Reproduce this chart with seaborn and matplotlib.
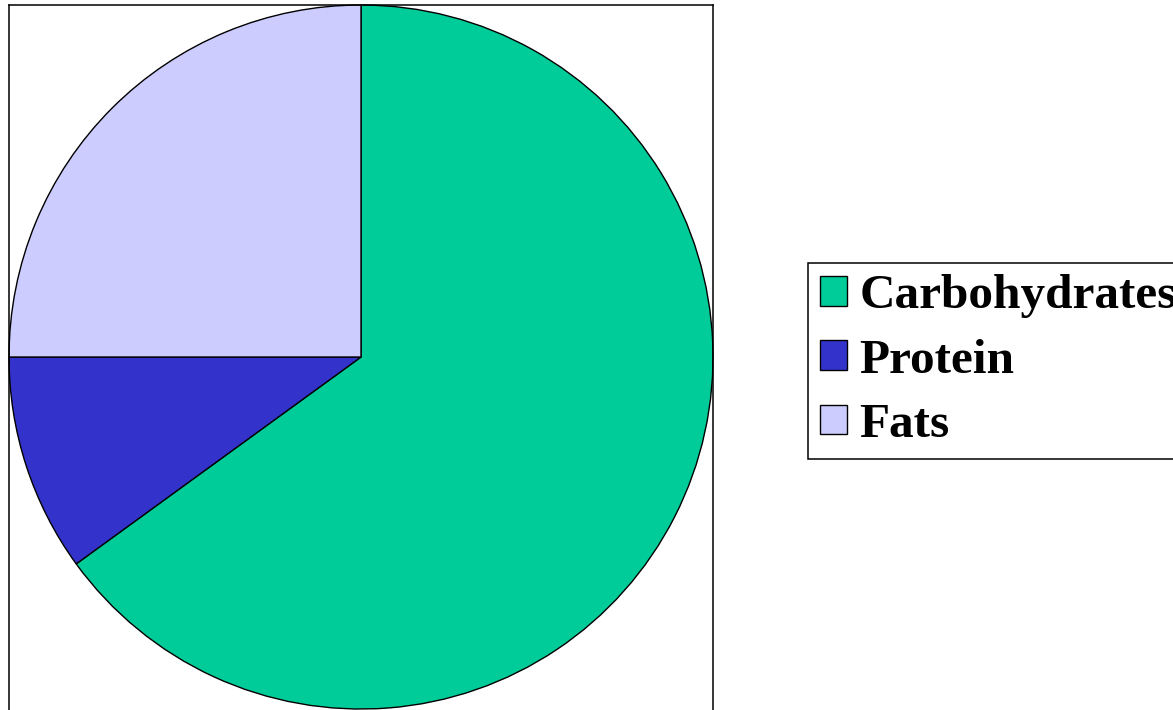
import seaborn as sns
import matplotlib.pyplot as plt

# Data
nutrients = ['Carbohydrates', 'Protein', 'Fats']
shares = [65, 10, 25]
colors = ['#00CC99', '#3333CC', '#CCCCFF']

sns.set_style('white')
plt.rcParams['font.family'] = ['Liberation Serif', 'DejaVu Serif']
plt.rcParams['text.color'] = 'black'

fig = plt.figure(figsize=(11.73, 7.10), dpi=100)
# axes box: left edge 9px, width 704px, top 5px, bottom runs off the figure
ax = fig.add_axes([9 / 1173, -5 / 710, 704 / 1173, 710 / 710])

wedges, _ = ax.pie(shares, colors=colors, startangle=90, counterclock=False,
                   radius=1.0, frame=True,
                   wedgeprops={'edgecolor': 'black', 'linewidth': 1.0})
ax.set_aspect('auto')
ax.set_xlim(-1.0, 1.0)
ax.set_ylim(-1.017, 1.0)
ax.set_xticks([])
ax.set_yticks([])
for s in ax.spines.values():
    s.set_visible(True)
    s.set_color('black')
    s.set_linewidth(1.1)

leg = fig.legend(wedges, nutrients, loc='center left',
                 bbox_to_anchor=(808 / 1173, 0.492),
                 prop={'weight': 'bold', 'size': 35.5},
                 frameon=True, fancybox=False, shadow=False,
                 handlelength=0.55, handleheight=0.55, handletextpad=0.25,
                 labelspacing=0.41, borderpad=0.24, borderaxespad=0)
leg.get_frame().set_edgecolor('black')
leg.get_frame().set_alpha(1)
leg.get_frame().set_linewidth(1.1)
for h in leg.legend_handles:
    h.set_edgecolor('black')
    h.set_linewidth(1.0)
for t in leg.get_texts():
    t.set_color('black')

fig.savefig('out.png', dpi=100)
